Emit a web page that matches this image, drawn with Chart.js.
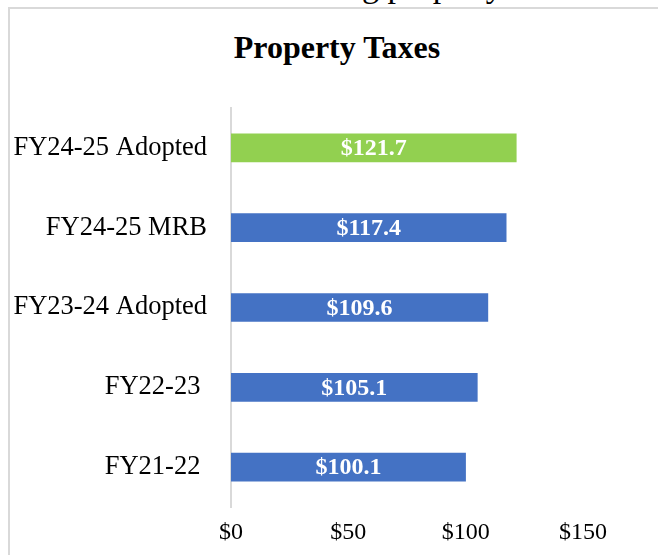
<!DOCTYPE html>
<html>
<head>
<meta charset="utf-8">
<script src="https://cdn.jsdelivr.net/npm/chart.js@4.4.1/dist/chart.umd.min.js"></script>
<style>
  html, body { margin: 0; padding: 0; background: #fff; overflow: hidden; }
  #page { position: relative; width: 658px; height: 555px; overflow: hidden; }
  #frame { position: absolute; left: 8px; top: 7px; width: 900px; height: 800px; border: 2px solid #d9d9d9; box-sizing: border-box; }
  #cut { position: absolute; left: 362px; top: -31px; font: 34px/34px "Liberation Serif", "Times New Roman", serif; color: #000; white-space: nowrap; }
  #title { position: absolute; left: 8px; width: 658px; top: 28px; text-align: center; font: bold 32px/38px "Liberation Serif", "Times New Roman", serif; color: #000; }
  #chartBox { position: absolute; left: 0; top: 0; }
</style>
</head>
<body>
<div id="page">
  <div id="cut">g property</div>
  <div id="frame"></div>
  <div id="title">Property Taxes</div>
  <div id="chartBox"><canvas id="taxChart" width="658" height="555"></canvas></div>
</div>
<script>
// --- Data ---
const categories = ['FY24-25 Adopted', 'FY24-25 MRB', 'FY23-24 Adopted', 'FY22-23 ', 'FY21-22 '];
const taxValues = [121.7, 117.4, 109.6, 105.1, 100.1];
const barColors = ['#92d050', '#4472c4', '#4472c4', '#4472c4', '#4472c4'];
const tickValues = [0, 50, 100, 150];

const serif = '"Liberation Serif", "Times New Roman", serif';

// draws the white value labels inside each bar
const barLabels = {
    id: 'barLabels',
    afterDatasetsDraw(chart) {
        const ctx = chart.ctx;
        const meta = chart.getDatasetMeta(0);
        ctx.save();
        ctx.fillStyle = '#fff';
        ctx.font = 'bold 24px ' + serif;
        ctx.textAlign = 'center';
        ctx.textBaseline = 'middle';
        meta.data.forEach((bar, i) => {
            const cx = (bar.x + bar.base) / 2;
            ctx.fillText('$' + taxValues[i].toFixed(1), cx, bar.y + 1);
        });
        ctx.restore();
    }
};

const ctx = document.getElementById('taxChart').getContext('2d');
new Chart(ctx, {
    type: 'bar',
    data: {
        labels: categories,
        datasets: [{
            data: taxValues,
            backgroundColor: barColors,
            borderWidth: 0,
            categoryPercentage: 1,
            barPercentage: 0.36
        }]
    },
    options: {
        indexAxis: 'y',
        responsive: false,
        animation: false,
        layout: { padding: { left: 0, right: 75, top: 108, bottom: 0 } },
        plugins: {
            legend: { display: false },
            tooltip: { enabled: false },
            title: { display: false }
        },
        scales: {
            x: {
                min: 0,
                max: 150,
                afterBuildTicks: scale => {
                    scale.ticks = tickValues.map(v => ({ value: v }));
                },
                afterFit: scale => { scale.height = 48; },
                grid: { display: false, drawTicks: false },
                border: { display: false },
                ticks: {
                    color: '#000',
                    padding: 11,
                    font: { family: serif, size: 24 },
                    callback: v => '$' + v
                }
            },
            y: {
                afterFit: scale => { scale.width = 231; },
                grid: { display: false, drawTicks: false },
                border: { display: true, color: '#d9d9d9', width: 2 },
                ticks: {
                    color: '#000',
                    padding: 24,
                    font: { family: serif, size: 26.5 }
                }
            }
        }
    },
    plugins: [barLabels]
});
</script>
</body>
</html>
